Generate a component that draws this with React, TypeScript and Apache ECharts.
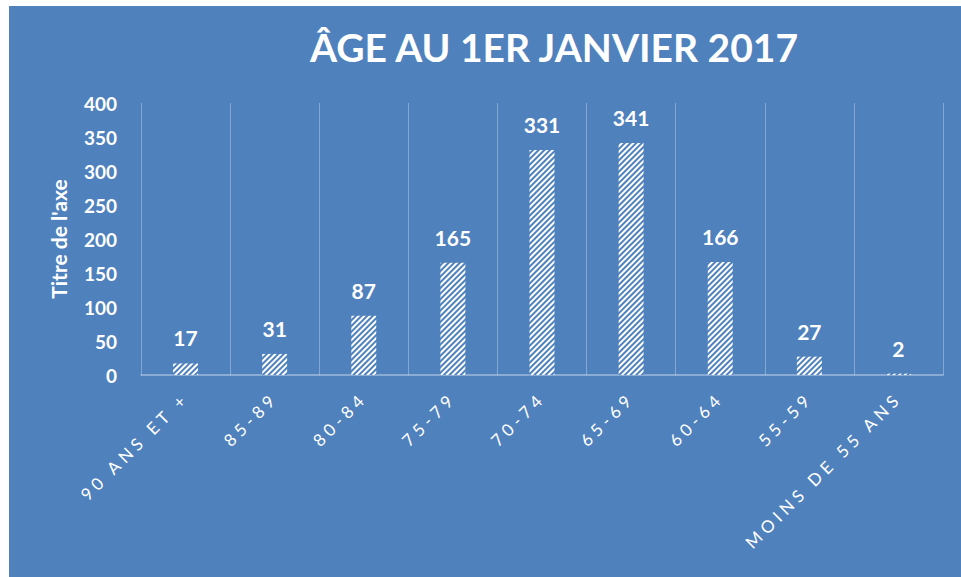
import React, { useEffect, useRef } from 'react';
import * as echarts from 'echarts';

const categories = ['90 ANS ET +', '85-89', '80-84', '75-79', '70-74', '65-69', '60-64', '55-59', 'MOINS DE 55 ANS'];
const values = [17, 31, 87, 165, 331, 341, 166, 27, 2];
const titleText = 'ÂGE AU 1ER JANVIER 2017';
const yAxisName = "Titre de l'axe";
const yMin = 0;
const yMax = 400;
const yInterval = 50;

const BG = '#4F81BD';
const FONT = 'Lato, "Open Sans", sans-serif';

export default function App() {
  const ref = useRef<HTMLDivElement>(null);
  useEffect(() => {
    if (!ref.current) return;
    const el = ref.current;
    const chart = echarts.init(el, undefined, { renderer: 'svg' });
    chart.setOption({
      animation: false,
      backgroundColor: 'transparent',
      graphic: [
        {
          type: 'rect',
          z: -100,
          silent: true,
          shape: { x: 9, y: 6, width: 952, height: 571 },
          style: { fill: BG },
        },
      ],
      title: {
        text: titleText,
        left: 549,
        textAlign: 'center',
        top: 22,
        textStyle: { color: '#fff', fontFamily: FONT, fontWeight: 'bold', fontSize: 39 },
      },
      grid: { left: 141, right: 18, top: 103, bottom: 202, containLabel: false },
      xAxis: {
        type: 'category',
        data: categories,
        axisLine: { show: true, lineStyle: { color: 'rgba(255,255,255,0.45)', width: 1.5 } },
        axisTick: { show: false },
        splitLine: { show: true, lineStyle: { color: 'rgba(255,255,255,0.3)', width: 1 } },
        axisLabel: {
          rotate: 45,
          margin: 20,
          color: '#fff',
          fontFamily: FONT,
          fontSize: 17,
          interval: 0,
        },
      },
      yAxis: {
        type: 'value',
        min: yMin,
        max: yMax,
        interval: yInterval,
        name: yAxisName,
        nameLocation: 'middle',
        nameGap: 72,
        nameRotate: 90,
        nameTextStyle: { color: '#fff', fontFamily: FONT, fontWeight: 'bold', fontSize: 21 },
        axisLine: { show: false },
        axisTick: { show: false },
        splitLine: { show: false },
        axisLabel: { color: '#fff', fontFamily: FONT, fontWeight: 'bold', fontSize: 19, margin: 24 },
      },
      series: [
        {
          type: 'bar',
          data: values,
          barWidth: '28%',
          itemStyle: {
            color: BG,
            decal: {
              symbol: 'rect',
              symbolSize: 1,
              color: '#ffffff',
              dashArrayX: [1, 0],
              dashArrayY: [2, 2],
              rotation: -Math.PI / 4,
            },
          },
          label: {
            show: true,
            position: 'top',
            distance: 15,
            color: '#fff',
            fontFamily: FONT,
            fontWeight: 'bold',
            fontSize: 21,
          },
        },
      ],
    });
    const applySpacing = () => {
      el.querySelectorAll('text').forEach((t) => {
        if (categories.includes((t.textContent || '').trim())) {
          (t as SVGTextElement).style.letterSpacing = '4.5px';
        }
      });
    };
    applySpacing();
    chart.on('finished', applySpacing);
    return () => {
      chart.dispose();
    };
  }, []);
  return (
    <div
      ref={ref}
      style={{ position: 'absolute', left: 0, top: 0, width: 961, height: 577, background: '#fff' }}
    />
  );
}
